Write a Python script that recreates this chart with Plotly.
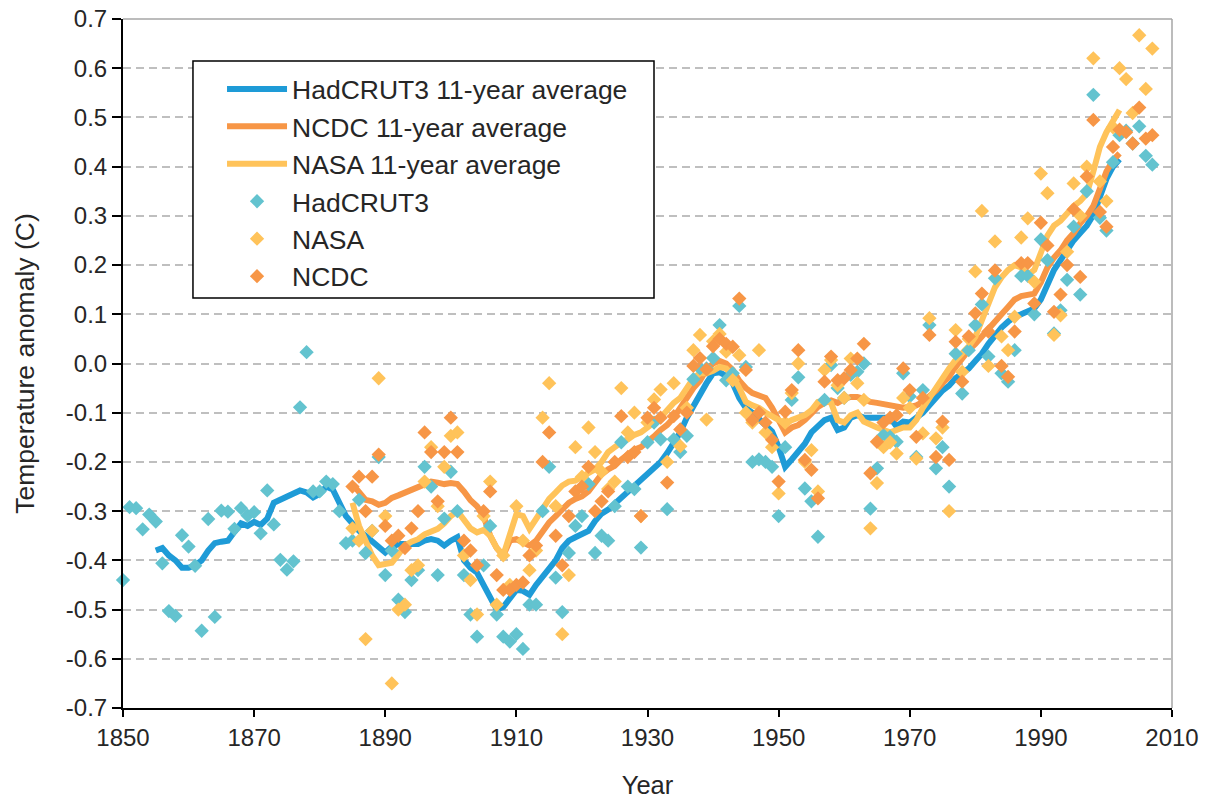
import plotly.graph_objects as go

# ---------------- data ----------------
had_years = list(range(1850, 2008))
had = [
    -0.44, -0.292, -0.294, -0.337, -0.307, -0.321, -0.406, -0.503, -0.513, -0.349,
    -0.372, -0.411, -0.543, -0.316, -0.515, -0.299, -0.301, -0.336, -0.294, -0.309,
    -0.302, -0.345, -0.258, -0.327, -0.399, -0.419, -0.402, -0.089, 0.023, -0.26,
    -0.26, -0.24, -0.245, -0.30, -0.365, -0.36, -0.277, -0.385, -0.34, -0.19,
    -0.43, -0.38, -0.48, -0.505, -0.44, -0.42, -0.21, -0.25, -0.43, -0.315,
    -0.22, -0.30, -0.43, -0.51, -0.555, -0.41, -0.33, -0.51, -0.555, -0.565,
    -0.55, -0.58, -0.49, -0.49, -0.30, -0.21, -0.435, -0.505, -0.385, -0.33,
    -0.31, -0.245, -0.385, -0.35, -0.36, -0.29, -0.16, -0.25, -0.255, -0.374,
    -0.16, -0.12, -0.154, -0.296, -0.154, -0.18, -0.147, -0.032, -0.01, -0.01,
    0.011, 0.078, -0.034, -0.02, 0.117, -0.007, -0.20, -0.195, -0.20, -0.21,
    -0.31, -0.17, -0.074, -0.028, -0.254, -0.28, -0.352, -0.074, -0.003, -0.05,
    -0.07, -0.023, -0.017, 0.0, -0.295, -0.213, -0.146, -0.149, -0.159, -0.02,
    -0.067, -0.19, -0.054, 0.078, -0.213, -0.17, -0.25, 0.02, -0.061, 0.027,
    0.078, 0.12, 0.014, 0.173, -0.02, -0.037, 0.027, 0.178, 0.178, 0.10,
    0.252, 0.21, 0.061, 0.108, 0.17, 0.278, 0.14, 0.35, 0.546, 0.296,
    0.27, 0.409, 0.464, 0.473, 0.447, 0.482, 0.422, 0.404,
]

obs_years = list(range(1885, 2008))
nasa = [
    -0.335, -0.36, -0.56, -0.34, -0.03,
    -0.31, -0.65, -0.50, -0.49, -0.42, -0.41, -0.24, -0.17, -0.29, -0.21,
    -0.147, -0.14, -0.39, -0.44, -0.51, -0.31, -0.24, -0.49, -0.39, -0.45,
    -0.29, -0.36, -0.42, -0.38, -0.11, -0.04, -0.29, -0.55, -0.43, -0.17,
    -0.23, -0.13, -0.18, -0.22, -0.255, -0.24, -0.05, -0.14, -0.10, -0.31,
    -0.12, -0.073, -0.053, -0.20, -0.04, -0.168, -0.09, 0.027, 0.058, -0.114,
    0.045, 0.06, 0.024, -0.034, 0.017, -0.10, -0.12, 0.027, -0.14, -0.17,
    -0.264, -0.12, -0.06, 0.0, -0.20, -0.176, -0.26, -0.013, 0.007, -0.044,
    -0.07, 0.01, -0.04, -0.074, -0.335, -0.243, -0.17, -0.16, -0.183, -0.07,
    -0.09, -0.193, -0.142, 0.092, -0.152, -0.13, -0.30, 0.068, -0.017, 0.05,
    0.187, 0.31, -0.005, 0.248, 0.055, 0.027, 0.095, 0.256, 0.295, 0.166,
    0.386, 0.346, 0.058, 0.098, 0.227, 0.366, 0.30, 0.40, 0.62, 0.37,
    0.33, 0.48, 0.60, 0.578, 0.509, 0.667, 0.558, 0.64,
]
ncdc = [
    -0.25, -0.23, -0.30, -0.23, -0.185,
    -0.33, -0.36, -0.35, -0.375, -0.335, -0.30, -0.14, -0.18, -0.28, -0.18,
    -0.11, -0.18, -0.36, -0.38, -0.41, -0.30, -0.26, -0.43, -0.46, -0.46,
    -0.45, -0.445, -0.39, -0.37, -0.20, -0.14, -0.35, -0.41, -0.31, -0.26,
    -0.25, -0.21, -0.30, -0.28, -0.26, -0.20, -0.107, -0.19, -0.18, -0.31,
    -0.11, -0.09, -0.11, -0.242, -0.107, -0.134, -0.10, -0.005, 0.011, -0.012,
    0.035, 0.05, 0.04, 0.034, 0.132, -0.013, -0.115, -0.10, -0.12, -0.155,
    -0.24, -0.098, -0.054, 0.027, -0.196, -0.216, -0.274, -0.037, 0.014, -0.034,
    -0.03, -0.013, 0.01, 0.04, -0.223, -0.159, -0.12, -0.11, -0.105, -0.01,
    -0.054, -0.149, -0.07, 0.058, -0.19, -0.118, -0.196, 0.044, -0.037, 0.055,
    0.102, 0.142, 0.065, 0.189, -0.005, -0.027, 0.065, 0.204, 0.204, 0.122,
    0.286, 0.24, 0.105, 0.14, 0.2, 0.313, 0.176, 0.38, 0.495, 0.308,
    0.278, 0.44, 0.475, 0.47, 0.447, 0.52, 0.457, 0.464,
]

had_avg_years = list(range(1855, 2003))
had_avg = [
    -0.38, -0.375, -0.39, -0.40, -0.415,
    -0.415, -0.41, -0.40, -0.38, -0.365, -0.362, -0.36, -0.342, -0.325, -0.33,
    -0.322, -0.328, -0.315, -0.283, -0.277, -0.273, -0.267, -0.258, -0.262, -0.272,
    -0.265, -0.25, -0.256, -0.28, -0.31, -0.325, -0.34, -0.35, -0.362, -0.376,
    -0.384, -0.372, -0.367, -0.367, -0.367, -0.367, -0.36, -0.357, -0.36, -0.37,
    -0.36, -0.353, -0.40, -0.415, -0.425, -0.45, -0.48, -0.50, -0.495, -0.475,
    -0.46, -0.462, -0.47, -0.45, -0.432, -0.415, -0.40, -0.375, -0.36, -0.353,
    -0.345, -0.34, -0.32, -0.305, -0.297, -0.285, -0.27, -0.26, -0.25, -0.235,
    -0.222, -0.21, -0.20, -0.182, -0.16, -0.14, -0.11, -0.085, -0.066, -0.04,
    -0.02, -0.018, -0.025, -0.04, -0.07, -0.09, -0.10, -0.113, -0.125, -0.138,
    -0.17, -0.21, -0.195, -0.18, -0.163, -0.14, -0.128, -0.115, -0.11, -0.135,
    -0.13, -0.11, -0.105, -0.11, -0.11, -0.11, -0.11, -0.11, -0.128, -0.118,
    -0.12, -0.11, -0.10, -0.085, -0.07, -0.055, -0.045, -0.03, -0.02, -0.01,
    0.005, 0.02, 0.04, 0.058, 0.073, 0.085, 0.095, 0.10, 0.105, 0.112,
    0.13, 0.16, 0.19, 0.21, 0.232, 0.25, 0.265, 0.28, 0.302, 0.34,
    0.375, 0.40, 0.415,
]

obs_avg_years = list(range(1885, 2003))
ncdc_avg = [
    -0.245, -0.263, -0.277, -0.28, -0.287,
    -0.283, -0.273, -0.268, -0.262, -0.258, -0.25, -0.243, -0.24, -0.242, -0.245,
    -0.243, -0.245, -0.26, -0.278, -0.29, -0.31, -0.35, -0.375, -0.39, -0.36,
    -0.357, -0.362, -0.37, -0.36, -0.34, -0.323, -0.31, -0.295, -0.283, -0.275,
    -0.27, -0.26, -0.24, -0.225, -0.215, -0.208, -0.195, -0.185, -0.175, -0.17,
    -0.16, -0.148, -0.135, -0.125, -0.11, -0.09, -0.068, -0.05, -0.035, -0.012,
    0.0, 0.005, 0.0, -0.013, -0.035, -0.05, -0.06, -0.065, -0.07, -0.09,
    -0.115, -0.14, -0.13, -0.125, -0.115, -0.10, -0.088, -0.08, -0.075, -0.08,
    -0.072, -0.068, -0.068, -0.072, -0.078, -0.08, -0.083, -0.085, -0.087, -0.09,
    -0.088, -0.085, -0.078, -0.068, -0.055, -0.04, -0.027, -0.007, 0.012, 0.027,
    0.04, 0.054, 0.07, 0.085, 0.10, 0.115, 0.13, 0.137, 0.14, 0.142,
    0.165, 0.195, 0.215, 0.23, 0.25, 0.265, 0.285, 0.30, 0.32, 0.355,
    0.39, 0.413, 0.427,
]
nasa_avg = [
    -0.283, -0.33, -0.36, -0.39, -0.41,
    -0.408, -0.405, -0.388, -0.37, -0.362, -0.357, -0.347, -0.34, -0.336, -0.325,
    -0.31, -0.30, -0.32, -0.335, -0.343, -0.338, -0.35, -0.375, -0.39, -0.35,
    -0.306, -0.31, -0.336, -0.316, -0.295, -0.275, -0.262, -0.248, -0.24, -0.238,
    -0.23, -0.222, -0.215, -0.20, -0.18, -0.17, -0.16, -0.154, -0.145, -0.14,
    -0.13, -0.12, -0.11, -0.095, -0.08, -0.07, -0.05, -0.03, -0.02, -0.02,
    -0.015, -0.007, -0.01, -0.025, -0.05, -0.078, -0.085, -0.09, -0.10, -0.108,
    -0.115, -0.122, -0.115, -0.11, -0.105, -0.095, -0.078, -0.075, -0.08, -0.115,
    -0.12, -0.105, -0.10, -0.118, -0.125, -0.13, -0.135, -0.14, -0.135, -0.13,
    -0.13, -0.115, -0.09, -0.07, -0.047, -0.025, -0.01, 0.007, 0.02, 0.035,
    0.054, 0.088, 0.129, 0.155, 0.175, 0.19, 0.20, 0.195, 0.18, 0.19,
    0.225, 0.26, 0.28, 0.29, 0.305, 0.32, 0.33, 0.345, 0.39, 0.44,
    0.47, 0.49, 0.515,
]

x_ticks = [1850, 1870, 1890, 1910, 1930, 1950, 1970, 1990, 2010]
y_ticks = [-0.7, -0.6, -0.5, -0.4, -0.3, -0.2, -0.1, 0.0, 0.1, 0.2, 0.3, 0.4, 0.5, 0.6, 0.7]
y_ticktext = ["%.1f" % v for v in y_ticks]

# ---------------- styles ----------------
BLUE = "#1E9BD7"
ORANGE = "#F79646"
GOLD = "#FFC35A"
CYAN = "#63C3CF"
FONT = '"Liberation Sans", Arial, sans-serif'
TXT = "#262626"
MSIZE = 11
LW = 6

fig = go.Figure()
fig.add_trace(go.Scatter(x=had_avg_years, y=had_avg, mode="lines",
                         name="HadCRUT3 11-year average",
                         line=dict(color=BLUE, width=LW)))
fig.add_trace(go.Scatter(x=obs_avg_years, y=ncdc_avg, mode="lines",
                         name="NCDC 11-year average",
                         line=dict(color=ORANGE, width=LW)))
fig.add_trace(go.Scatter(x=obs_avg_years, y=nasa_avg, mode="lines",
                         name="NASA 11-year average",
                         line=dict(color=GOLD, width=LW)))
fig.add_trace(go.Scatter(x=had_years, y=had, mode="markers", name="HadCRUT3",
                         marker=dict(symbol="diamond", size=MSIZE, color=CYAN),
                         cliponaxis=False))
fig.add_trace(go.Scatter(x=obs_years, y=nasa, mode="markers", name="NASA",
                         marker=dict(symbol="diamond", size=MSIZE, color=GOLD),
                         cliponaxis=False))
fig.add_trace(go.Scatter(x=obs_years, y=ncdc, mode="markers", name="NCDC",
                         marker=dict(symbol="diamond", size=MSIZE, color=ORANGE),
                         cliponaxis=False))

fig.update_layout(
    width=1210, height=799,
    margin=dict(l=123, r=38, t=19, b=91),
    paper_bgcolor="white", plot_bgcolor="white",
    font=dict(family=FONT, color=TXT),
    showlegend=True,
    legend=dict(x=0.0944, y=0.933, xanchor="left", yanchor="top",
                bgcolor="rgba(0,0,0,0)", borderwidth=0,
                font=dict(size=26.5, family=FONT, color=TXT),
                itemwidth=60, tracegroupgap=0),
    xaxis=dict(range=[1850, 2010], tickmode="array", tickvals=x_ticks,
               ticks="outside", ticklen=7, tickwidth=1.5, tickcolor="black",
               showline=True, linecolor="black", linewidth=2,
               showgrid=False, zeroline=False, automargin=False,
               tickfont=dict(size=24, family=FONT, color=TXT),
               title=dict(text="Year", font=dict(size=25.5, family=FONT, color=TXT),
                          standoff=26)),
    yaxis=dict(range=[-0.7, 0.7], tickmode="array", tickvals=y_ticks,
               ticktext=y_ticktext,
               ticks="outside", ticklen=9, tickwidth=1.5, tickcolor="black",
               showline=True, linecolor="black", linewidth=2,
               showgrid=True, gridcolor="#BFBFBF", gridwidth=1.5,
               griddash="8px,5px", zeroline=False, automargin=False,
               tickfont=dict(size=24, family=FONT, color=TXT),
               title=dict(text="Temperature anomaly (C)",
                          font=dict(size=26.5, family=FONT, color=TXT),
                          standoff=24)),
    shapes=[
        dict(type="line", xref="paper", yref="paper", x0=0, x1=1, y0=1, y1=1,
             line=dict(color="#A6A6A6", width=1.5), layer="below"),
        dict(type="line", xref="paper", yref="paper", x0=1, x1=1, y0=0, y1=1,
             line=dict(color="#A6A6A6", width=1.5), layer="below"),
        # legend frame
        dict(type="rect", xref="paper", yref="paper",
             x0=0.0667, x1=0.5062, y0=0.595, y1=0.939,
             line=dict(color="black", width=1.5), fillcolor="white",
             layer="above"),
    ],
)

fig.write_html("out.html", config={"displayModeBar": False},
               post_script="document.body.style.margin='0px';")
